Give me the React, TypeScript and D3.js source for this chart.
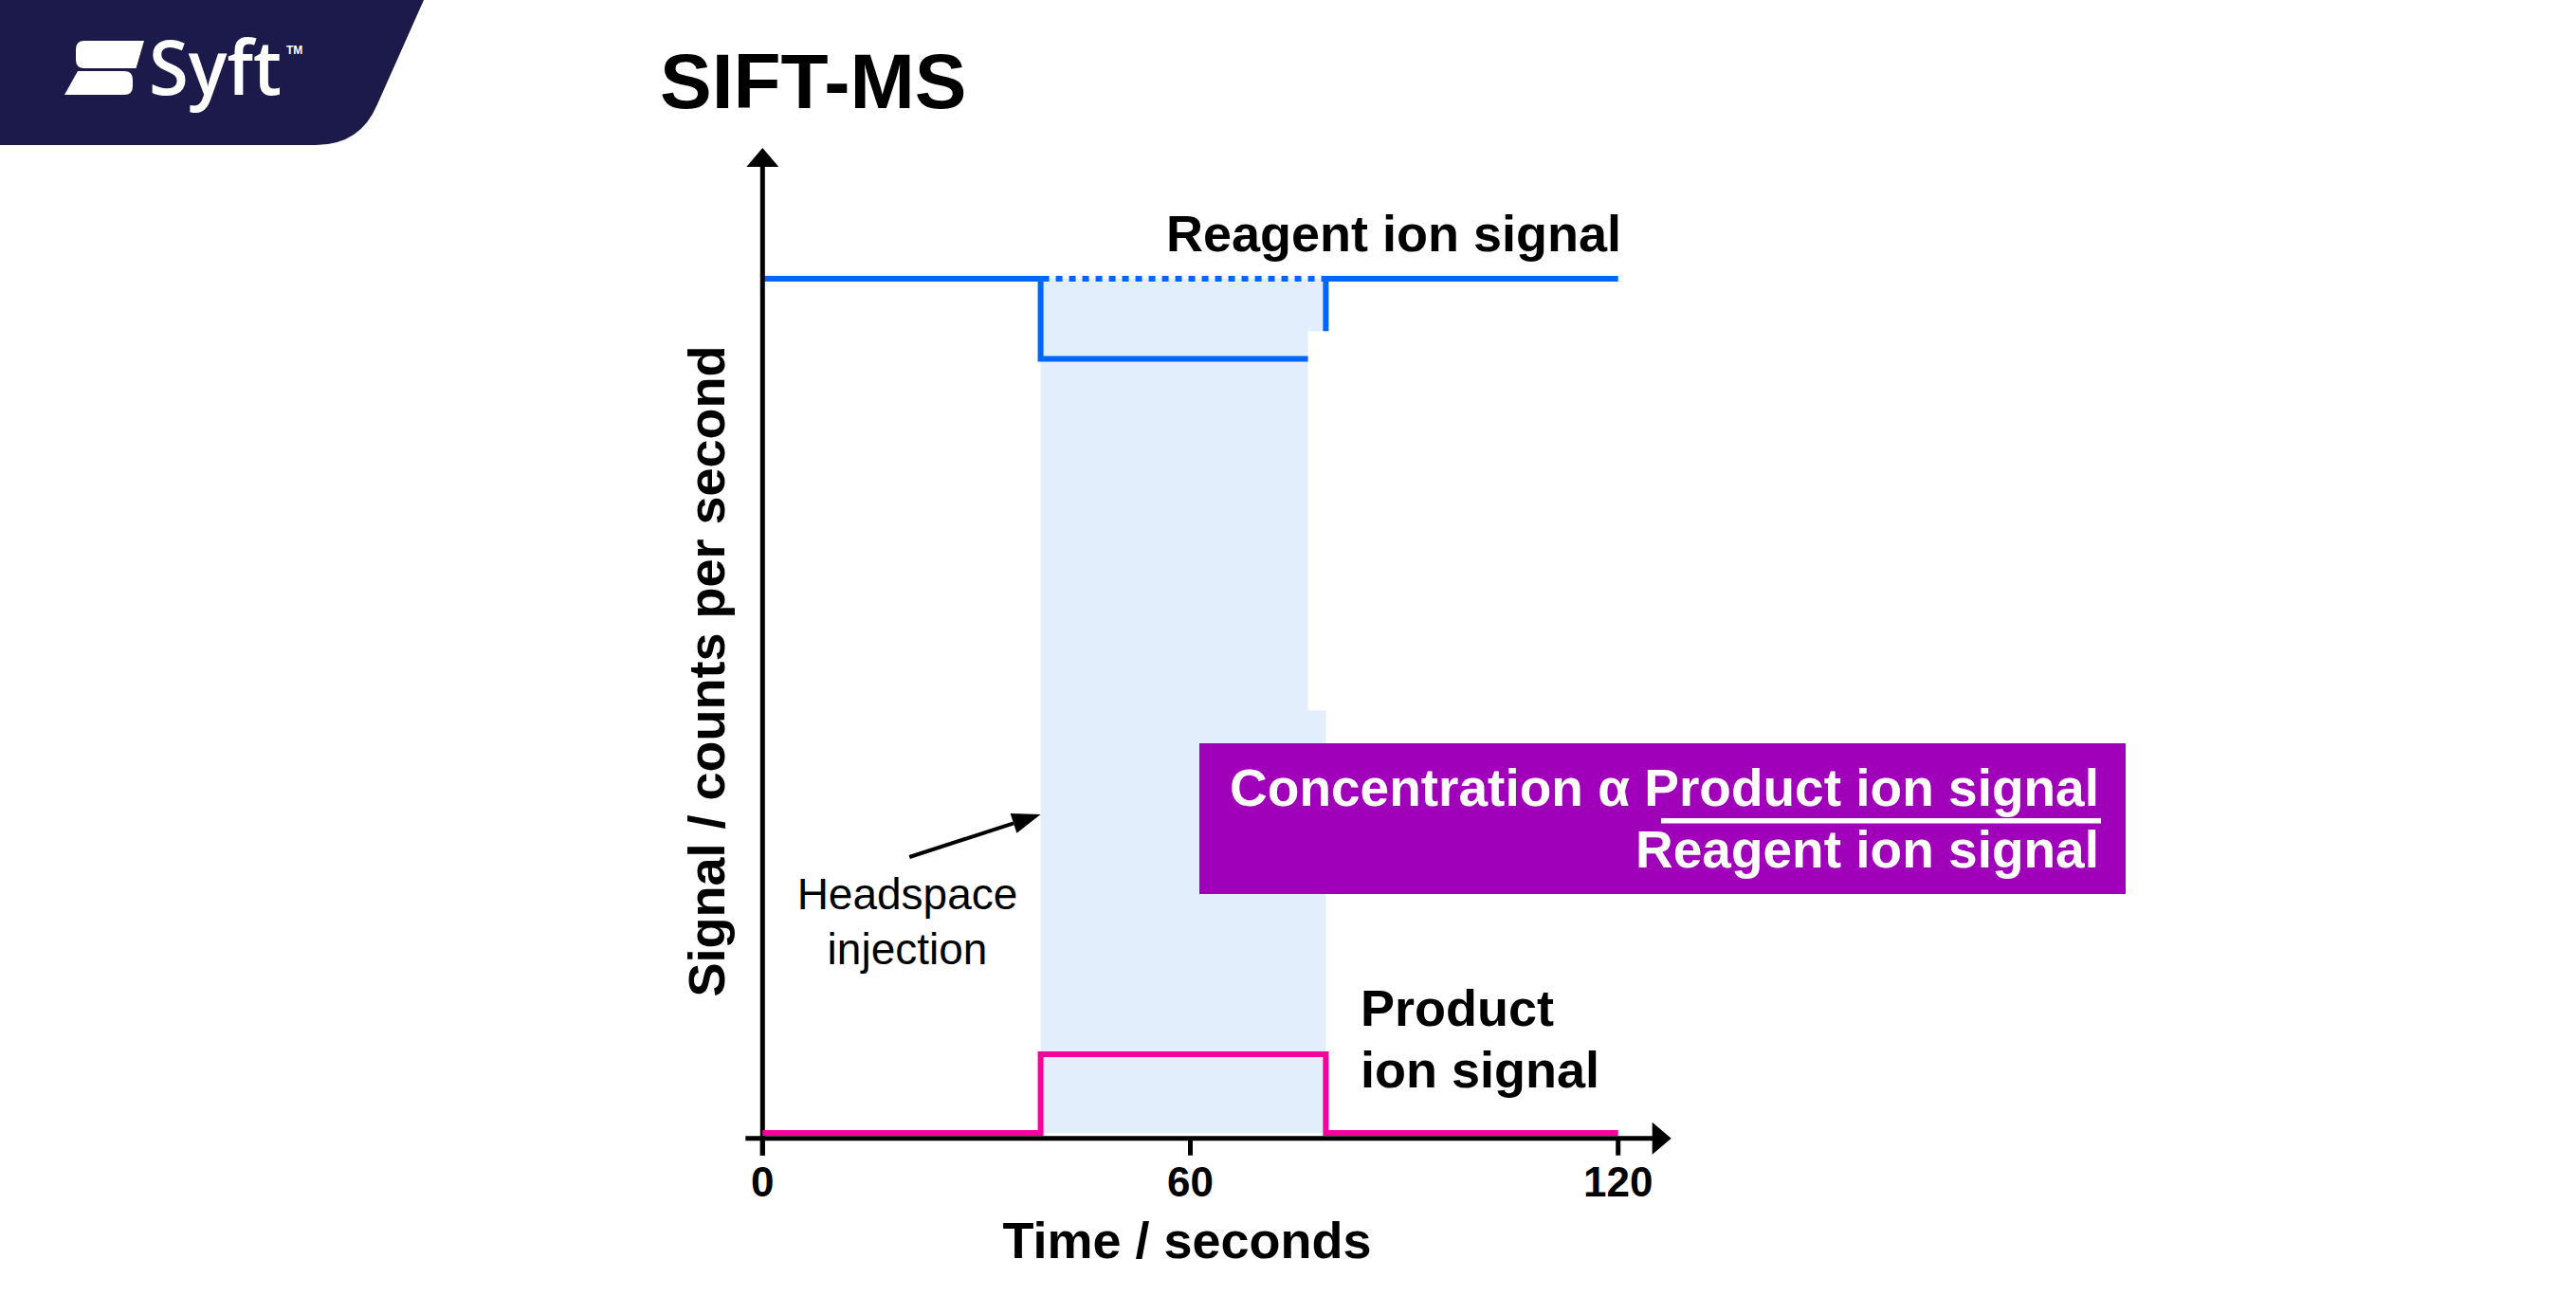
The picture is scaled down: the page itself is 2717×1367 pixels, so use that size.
import React from 'react';
import * as d3 from 'd3';

// time axis (seconds) and tick labels
const xTicks = [0, 60, 120];
const xDomain = [0, 120];
const yDomain = [0, 100];

// reagent ion signal: step down during the headspace injection
const reagentTime = [0, 39, 39, 79, 79, 120];
const reagentValue = [86.8, 86.8, 78.7, 78.7, 86.8, 86.8];
// dotted "unperturbed" reagent level during injection
const reagentRefTime = [39, 79];
const reagentRefValue = [86.8, 86.8];

// product ion signal: step up during injection
const productTime = [0, 39, 39, 79, 79, 120];
const productValue = [0.55, 0.55, 8.5, 8.5, 0.55, 0.55];

// injection window (shaded band)
const injectionStart = 39;
const injectionEnd = 79;
// white patch over the band (present in the source drawing)
const patchTime = [76.5, 79.7];
const patchValue = [43.2, 81.5];

// annotation arrow: tail -> head, in data units
const arrowTail = [20.6, 28.4];
const arrowHead = [39, 32.7];

const W = 2717;
const H = 1367;
const FONT = '"Liberation Sans", Arial, Helvetica, sans-serif';

const BLUE = '#0066ff';
const PINK = '#f5009b';
const BAND = '#e3eefc';
const PURPLE = '#a000ba';
const NAVY = '#1c1a4b';

export default function App() {
  const x = d3.scaleLinear().domain(xDomain).range([804.3, 1706.7]);
  const y = d3.scaleLinear().domain(yDomain).range([1200.7, 156]);

  const line = d3
    .line<[number, number]>()
    .x((d) => x(d[0]))
    .y((d) => y(d[1]));

  const reagentPts = reagentTime.map((t, i) => [t, reagentValue[i]] as [number, number]);
  const reagentRefPts = reagentRefTime.map((t, i) => [t, reagentRefValue[i]] as [number, number]);
  const productPts = productTime.map((t, i) => [t, productValue[i]] as [number, number]);

  const axisX = y(0);
  const axisLeft = x(0);
  const xTip = x(xDomain[1]) + 56;
  const yTip = y(yDomain[1]);

  // arrow head geometry
  const ax1 = x(arrowTail[0]);
  const ay1 = y(arrowTail[1]);
  const ax2 = x(arrowHead[0]);
  const ay2 = y(arrowHead[1]);
  const ang = Math.atan2(ay2 - ay1, ax2 - ax1);
  const hl = 30;
  const hw = 11;
  const bx = ax2 - hl * Math.cos(ang);
  const by = ay2 - hl * Math.sin(ang);
  const headPts = [
    [ax2, ay2],
    [bx + hw * Math.sin(ang), by - hw * Math.cos(ang)],
    [bx - hw * Math.sin(ang), by + hw * Math.cos(ang)],
  ]
    .map((p) => p.join(','))
    .join(' ');

  return (
    <svg
      width={W}
      height={H}
      viewBox={`0 0 ${W} ${H}`}
      style={{ position: 'absolute', left: 0, top: 0, background: '#fff' }}
      fontFamily={FONT}
    >
      <rect x={0} y={0} width={W} height={H} fill="#ffffff" />

      {/* logo banner */}
      <path d="M0 0 L447 0 L398 110 Q380 153 333 153 L0 153 Z" fill={NAVY} />
      <path d="M89 43 L152 43 L143.5 72 L89 72 Q80 72 80 63 L80 52 Q80 43 89 43 Z" fill="#fff" />
      <path d="M82 75 L131 75 Q140 75 140 84 L140 91 Q140 100 131 100 L68 100 Z" fill="#fff" />
      <text
        x={157}
        y={100}
        fill="#fff"
        fontFamily='"Open Sans", "Liberation Sans", Arial, sans-serif'
        fontWeight={600}
        fontSize={80}
        textLength={140}
        lengthAdjust="spacingAndGlyphs"
      >
        Syft
      </text>
      <text x={302} y={57} fill="#fff" fontSize={12} fontWeight={700}>
        TM
      </text>

      {/* title */}
      <text x={696} y={114} fontSize={82} fontWeight={700} fill="#000">
        SIFT-MS
      </text>

      {/* injection band */}
      <rect
        x={x(injectionStart)}
        y={y(reagentValue[0])}
        width={x(injectionEnd) - x(injectionStart)}
        height={y(productValue[0]) - y(reagentValue[0])}
        fill={BAND}
      />

      {/* reagent ion signal */}
      <path
        d={line(reagentRefPts) || ''}
        fill="none"
        stroke={BLUE}
        strokeWidth={6}
        strokeDasharray="7,7"
        strokeDashoffset={-2}
      />
      <path d={line(reagentPts) || ''} fill="none" stroke={BLUE} strokeWidth={6} strokeLinejoin="miter" />

      {/* white patch */}
      <rect
        x={x(patchTime[0])}
        y={y(patchValue[1])}
        width={x(patchTime[1]) - x(patchTime[0])}
        height={y(patchValue[0]) - y(patchValue[1])}
        fill="#ffffff"
      />

      {/* axes */}
      <line x1={axisLeft - 18} y1={axisX} x2={xTip - 19} y2={axisX} stroke="#000" strokeWidth={5} />
      <polygon
        points={`${xTip - 20},${axisX - 17} ${xTip},${axisX} ${xTip - 20},${axisX + 17}`}
        fill="#000"
      />
      <line x1={axisLeft} y1={axisX + 18} x2={axisLeft} y2={yTip + 19} stroke="#000" strokeWidth={5} />
      <polygon
        points={`${axisLeft - 17},${yTip + 20} ${axisLeft},${yTip} ${axisLeft + 17},${yTip + 20}`}
        fill="#000"
      />
      {xTicks.map((t) => (
        <g key={t}>
          <line x1={x(t)} y1={axisX} x2={x(t)} y2={axisX + 18} stroke="#000" strokeWidth={5} />
          <text x={x(t)} y={1262} textAnchor="middle" fontSize={44} fontWeight={700} fill="#000">
            {t}
          </text>
        </g>
      ))}

      {/* product ion signal */}
      <path d={line(productPts) || ''} fill="none" stroke={PINK} strokeWidth={6} strokeLinejoin="miter" />

      {/* axis titles */}
      <text x={1252} y={1327} textAnchor="middle" fontSize={54} fontWeight={700} fill="#000">
        Time / seconds
      </text>
      <text
        transform="translate(764,708) rotate(-90)"
        textAnchor="middle"
        fontSize={54}
        fontWeight={700}
        fill="#000"
      >
        Signal / counts per second
      </text>

      {/* series labels */}
      <text x={1710} y={265} textAnchor="end" fontSize={54} fontWeight={700} fill="#000">
        Reagent ion signal
      </text>
      <text x={1435} y={1082} fontSize={54} fontWeight={700} fill="#000">
        Product
      </text>
      <text x={1435} y={1147} fontSize={54} fontWeight={700} fill="#000">
        ion signal
      </text>

      {/* headspace injection annotation */}
      <text x={957} y={959} textAnchor="middle" fontSize={46} fill="#000">
        Headspace
      </text>
      <text x={957} y={1017} textAnchor="middle" fontSize={46} fill="#000">
        injection
      </text>
      <line x1={ax1} y1={ay1} x2={bx} y2={by} stroke="#000" strokeWidth={4} />
      <polygon points={headPts} fill="#000" />

      {/* concentration box */}
      <rect x={1265} y={784} width={977} height={159} fill={PURPLE} />
      <text x={2214} y={850} textAnchor="end" fontSize={55} fontWeight={700} fill="#fff">
        Concentration α Product ion signal
      </text>
      <rect x={1752} y={863} width={464} height={5.5} fill="#fff" />
      <text x={2214} y={915} textAnchor="end" fontSize={55} fontWeight={700} fill="#fff">
        Reagent ion signal
      </text>
    </svg>
  );
}
